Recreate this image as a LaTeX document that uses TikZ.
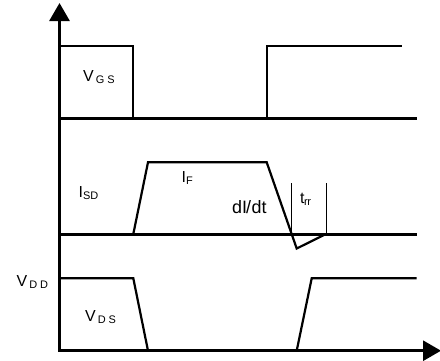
\documentclass[tikz,border=0pt]{standalone}
\usepackage{fontspec}
\setmainfont{Liberation Sans}
\usetikzlibrary{arrows.meta}
\tikzset{
  wave/.style={line width=2.2bp, line join=miter},
  base/.style={line width=3bp},
  thin/.style={line width=1bp},
  axis/.style={line width=2.8bp, -{Triangle[length=18bp,width=20bp]}},
  lbl/.style={inner sep=0pt, anchor=base west, font=\fontsize{16}{16}\selectfont},
}
\newcommand{\subs}[1]{\raisebox{-2bp}{\fontsize{11}{11}\selectfont #1}}
\begin{document}
\begin{tikzpicture}[x=1bp,y=-1bp]
\useasboundingbox (0,0) rectangle (440,360);
% axes
\draw[axis] (59.5,350.7) -- (59.5,3);
\draw[axis] (58,350.7) -- (441,350.7);
% baselines
\draw[base] (58,118.3) -- (416.7,118.3);
\draw[base] (58,234) -- (416.7,234);
% VGS
\draw[wave] (59.5,46) -- (133.3,46) -- (133.3,118.3);
\draw[wave] (266.7,118.3) -- (266.7,46) -- (401.7,46);
% ISD
\draw[wave] (133.3,234) -- (148,162.3) -- (266.7,162.3) -- (296.7,248.5) -- (326,234);
% trr markers
\draw[thin] (291.7,183.3) -- (291.7,234);
\draw[thin] (326,183.3) -- (326,234);
% VDS
\draw[wave] (59.5,278.3) -- (133.3,278.3) -- (148,350.7);
\draw[wave] (296.7,350.7) -- (311.7,278.3) -- (416.7,278.3);
% labels
\node[lbl] (vgs) at (83,81) {V\hspace{2bp}\subs{G\hspace{3bp}S}};
\node[lbl] (vdd) at (16.5,286) {V\hspace{2bp}\subs{D\hspace{3bp}D}};
\node[lbl] (vds) at (85,321) {V\hspace{2bp}\subs{D\hspace{3bp}S}};
\node[lbl] (isd) at (78.5,197) {I\subs{SD}};
\node[lbl] (if) at (181.5,182.3) {I\subs{F}};
\node[lbl, font=\fontsize{18}{18}\selectfont] (didt) at (232,213.3) {dI\kern-1bp/\kern0.5bp dt};
\node[lbl] (trr) at (300,203.3) {t\subs{\kern-0.5bp r\kern-0.5bp r}};
\end{tikzpicture}
\end{document}
